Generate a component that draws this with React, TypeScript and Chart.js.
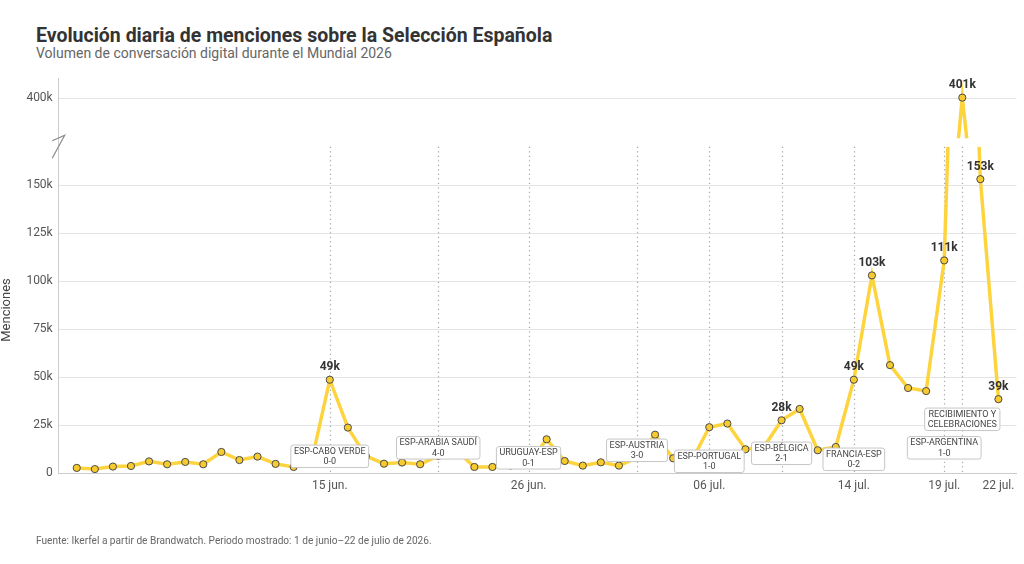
import React, { useEffect, useRef } from 'react';
import { Chart, registerables } from 'chart.js';

Chart.register(...registerables);

// ---------- DATA ----------
// Daily mentions, 1 June (index 0) to 22 July 2026 (index 51)
const mentions: number[] = [
  2800, 2200, 3500, 3800, 6200, 4700, 5900, 4700, 11100, 6900,
  8700, 4900, 3300, 6400, 48700, 23800, 8900, 5000, 5600, 4700,
  9000, 12000, 3300, 3300, 4000, 5000, 17700, 6400, 4000, 5700,
  4000, 8000, 20100, 7800, 6000, 24000, 25900, 12500, 13400, 27600,
  33500, 12000, 13700, 48700, 103000, 56300, 44400, 42800, 110800, 401000,
  153100, 38600,
];

const tickDays: number[] = [14, 25, 35, 43, 48, 51];
const tickLabels: string[] = ['15 jun.', '26 jun.', '06 jul.', '14 jul.', '19 jul.', '22 jul.'];

const lowerTicks: number[] = [0, 25000, 50000, 75000, 100000, 125000, 150000];
const upperTicks: number[] = [400000];

const eventDays: number[] = [14, 20, 25, 31, 35, 39, 43, 48, 49];
const eventLine1: string[] = [
  'ESP-CABO VERDE', 'ESP-ARABIA SAUDÍ', 'URUGUAY-ESP', 'ESP-AUSTRIA', 'ESP-PORTUGAL',
  'ESP-BÉLGICA', 'FRANCIA-ESP', 'ESP-ARGENTINA', 'RECIBIMIENTO Y',
];
const eventLine2: string[] = ['0-0', '4-0', '0-1', '3-0', '1-0', '2-1', '0-2', '1-0', 'CELEBRACIONES'];

const labeledDays: number[] = [14, 39, 43, 44, 48, 49, 50, 51];

// ---------- LAYOUT / STYLE ----------
const LOWER_MAX = 170000;
const UPPER_VISIBLE_MIN = 340000;
const UPPER_MIN = 327400;
const UPPER_MAX = 430000;
const EVENT_BOX_OFFSETS = [17, 25.5, 15.5, 23, 12, 20, 14, 25.5, 54]; // px above baseline (box centre)
const FONT = 'Roboto, "Noto Sans", sans-serif';
const LINE_COLOR = '#FDD43E';
const POINT_FILL = '#F7CB2D';

const fmtK = (v: number) => (v === 0 ? '0' : `${Math.round(v / 1000)}k`);

const panelClip = {
  id: 'panelClip',
  beforeDatasetDraw(chart: any, args: any) {
    const ds = chart.data.datasets[args.index];
    const scale = chart.scales[ds.yAxisID];
    const area = chart.chartArea;
    const ctx = chart.ctx;
    let top: number;
    let bottom: number;
    if (ds.yAxisID === 'y') {
      top = scale.top;
      bottom = area.bottom + 10;
    } else {
      top = area.top - 20;
      bottom = scale.getPixelForValue(UPPER_VISIBLE_MIN);
    }
    ctx.save();
    ctx.beginPath();
    ctx.rect(area.left - 10, top, area.right - area.left + 20, bottom - top);
    ctx.clip();
  },
  afterDatasetDraw(chart: any) {
    chart.ctx.restore();
  },
};

const decorations = {
  id: 'decorations',
  beforeDatasetsDraw(chart: any) {
    const ctx = chart.ctx;
    const x = chart.scales.x;
    const y = chart.scales.y;
    ctx.save();
    ctx.strokeStyle = '#a8a8a8';
    ctx.lineWidth = 1.2;
    ctx.setLineDash([1.3, 3.2]);
    eventDays.forEach((d) => {
      const px = Math.round(x.getPixelForValue(d)) + 0.5;
      ctx.beginPath();
      ctx.moveTo(px, y.top);
      ctx.lineTo(px, y.bottom);
      ctx.stroke();
    });
    ctx.restore();
  },
  afterDatasetsDraw(chart: any) {
    const ctx = chart.ctx;
    const x = chart.scales.x;
    const y = chart.scales.y;
    // event boxes
    ctx.save();
    ctx.font = `9px ${FONT}`;
    eventDays.forEach((d, i) => {
      const cx = x.getPixelForValue(d);
      const cy = y.bottom - EVENT_BOX_OFFSETS[i];
      const w = Math.max(ctx.measureText(eventLine1[i]).width, ctx.measureText(eventLine2[i]).width) + 6;
      const h = 22.5;
      ctx.beginPath();
      ctx.roundRect(cx - w / 2, cy - h / 2, w, h, 2.5);
      ctx.fillStyle = '#ffffff';
      ctx.fill();
      ctx.strokeStyle = '#c6c6c6';
      ctx.lineWidth = 1;
      ctx.stroke();
      ctx.fillStyle = '#454545';
      ctx.textAlign = 'center';
      ctx.textBaseline = 'middle';
      ctx.fillText(eventLine1[i], cx, cy - 5);
      ctx.fillText(eventLine2[i], cx, cy + 5.5);
    });
    ctx.restore();

    // value labels
    ctx.save();
    ctx.font = `bold 12px ${FONT}`;
    ctx.fillStyle = '#333333';
    ctx.textAlign = 'center';
    ctx.textBaseline = 'middle';
    labeledDays.forEach((d) => {
      const v = mentions[d];
      const meta = chart.getDatasetMeta(v >= UPPER_VISIBLE_MIN ? 1 : 0);
      const pt = meta.data[d];
      ctx.fillText(fmtK(v), pt.x, pt.y - 12.5);
    });
    ctx.restore();
  },
  afterDraw(chart: any) {
    const ctx = chart.ctx;
    const yTop = chart.scales.yTop;
    const ax = chart.chartArea.left;
    const yb = yTop.getPixelForValue(UPPER_VISIBLE_MIN);
    ctx.save();
    ctx.strokeStyle = '#8a8a8a';
    ctx.lineWidth = 1.2;
    ctx.beginPath();
    ctx.moveTo(ax - 6.5, yb + 2.5);
    ctx.lineTo(ax + 6, yb - 3);
    ctx.lineTo(ax - 6.5, yb + 20);
    ctx.stroke();
    ctx.restore();
  },
};

export default function App() {
  const ref = useRef<HTMLCanvasElement | null>(null);

  useEffect(() => {
    document.body.style.margin = '0';
    if (!ref.current) return;
    const points = mentions.map((v, i) => ({ x: i, y: v }));
    const common = {
      borderColor: LINE_COLOR,
      borderWidth: 3.5,
      pointRadius: 3.6,
      pointBackgroundColor: POINT_FILL,
      pointBorderColor: '#4a4a4a',
      pointBorderWidth: 1,
      tension: 0,
      fill: false,
    };
    const chart = new Chart(ref.current, {
      type: 'line',
      data: {
        datasets: [
          { ...common, label: 'Menciones', data: points, yAxisID: 'y' },
          { ...common, label: 'Menciones (pico)', data: points, yAxisID: 'yTop' },
        ],
      },
      options: {
        animation: false,
        responsive: false,
        maintainAspectRatio: false,
        devicePixelRatio: 1,
        layout: { padding: { top: 78.3, right: 7.5, bottom: 60.7, left: 0 } },
        plugins: { legend: { display: false }, tooltip: { enabled: false }, title: { display: false } },
        scales: {
          x: {
            type: 'linear',
            min: -1,
            max: 52,
            grid: { display: false, drawTicks: false },
            border: { display: true, color: '#cccccc' },
            afterBuildTicks: (s: any) => {
              s.ticks = tickDays.map((d) => ({ value: d }));
            },
            afterFit: (s: any) => {
              s.height = 30;
            },
            ticks: {
              padding: 5,
              color: '#555555',
              font: { family: FONT, size: 12 },
              maxRotation: 0,
              autoSkip: false,
              callback: (v: any) => tickLabels[tickDays.indexOf(Number(v))] ?? '',
            },
          },
          y: {
            type: 'linear',
            position: 'left',
            stack: 'v',
            stackWeight: 326.6,
            min: 0,
            max: LOWER_MAX,
            afterBuildTicks: (s: any) => {
              s.ticks = lowerTicks.map((v) => ({ value: v }));
            },
            afterFit: (s: any) => {
              s.width = 58.7;
            },
            grid: { color: '#e4e4e4', drawTicks: false },
            border: { display: true, color: '#cccccc' },
            ticks: {
              padding: 6,
              color: '#555555',
              font: { family: FONT, size: 12 },
              callback: (v: any) => fmtK(Number(v)),
            },
            title: {
              display: true,
              text: 'Menciones',
              color: '#444444',
              font: { family: FONT, size: 13, lineHeight: 1 },
              padding: { top: 0, bottom: 0 },
            },
          },
          yTop: {
            type: 'linear',
            position: 'left',
            stack: 'v',
            stackWeight: 68.4,
            min: UPPER_MIN,
            max: UPPER_MAX,
            afterBuildTicks: (s: any) => {
              s.ticks = upperTicks.map((v) => ({ value: v }));
            },
            afterFit: (s: any) => {
              s.width = 58.7;
            },
            grid: { color: '#e4e4e4', drawTicks: false },
            border: { display: true, color: '#cccccc' },
            ticks: {
              padding: 6,
              color: '#555555',
              font: { family: FONT, size: 12 },
              callback: (v: any) => fmtK(Number(v)),
            },
          },
        },
      },
      plugins: [panelClip, decorations],
    } as any);
    return () => chart.destroy();
  }, []);

  return (
    <div style={{ position: 'relative', width: 1024, height: 564, background: '#ffffff', fontFamily: FONT }}>
      <div
        style={{
          position: 'absolute', left: 36, top: 26.3, fontSize: 19.5, lineHeight: 1, fontWeight: 700,
          color: '#333333', whiteSpace: 'nowrap',
        }}
      >
        Evolución diaria de menciones sobre la Selección Española
      </div>
      <div
        style={{
          position: 'absolute', left: 36, top: 46, fontSize: 14, lineHeight: 1,
          color: '#666666', whiteSpace: 'nowrap',
        }}
      >
        Volumen de conversación digital durante el Mundial 2026
      </div>
      <canvas ref={ref} width={1024} height={564} style={{ position: 'absolute', left: 0, top: 0, width: 1024, height: 564 }} />
      <div
        style={{
          position: 'absolute', left: 36, top: 535.6, fontSize: 10.1, lineHeight: 1,
          color: '#666666', whiteSpace: 'nowrap',
        }}
      >
        Fuente: Ikerfel a partir de Brandwatch. Periodo mostrado: 1 de junio–22 de julio de 2026.
      </div>
    </div>
  );
}
